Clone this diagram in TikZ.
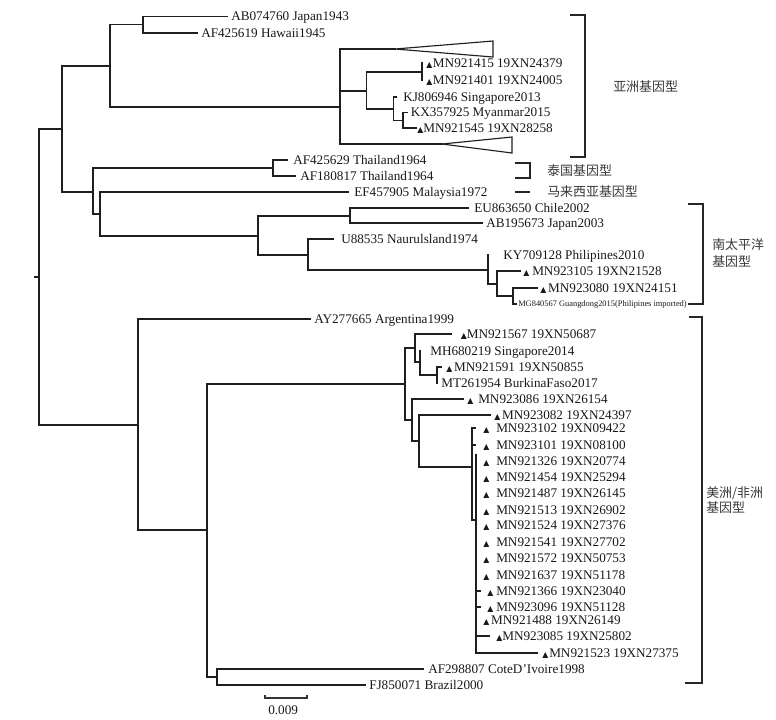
\documentclass[tikz,border=0pt]{standalone}
\usepackage{fontspec}
\setmainfont{Liberation Serif}
\newfontfamily\cjkf{Noto Sans CJK SC}
\newfontfamily\symf{DejaVu Sans}
\newcommand\mytri{{\symf\fontsize{5.9}{6}\selectfont ▲}}
\newcommand\tg[1]{\mytri\hspace{#1pt}}
\begin{document}
\begin{tikzpicture}[x=0.75pt,y=-0.75pt,
  br/.style={line width=0.85pt,draw=black!88,line cap=rect},
  lf/.style={anchor=base west,inner sep=0pt,font=\fontsize{9.9}{11}\selectfont,text=black!90},
  sm/.style={anchor=base west,inner sep=0pt,font=\fontsize{6.3}{7}\selectfont,text=black!90},
  cj/.style={anchor=west,inner sep=0pt,font=\cjkf\fontsize{9.7}{11}\selectfont,text=black!78},
  bk/.style={line width=0.9pt,draw=black!85}]
\newcommand\leaf[4]{\node[lf] (#1) at (#2,{#3+4.4}) {#4};}
\newcommand\edgebr[2]{\draw[br] (#1 |- #2) -- (#2);}
\newcommand\vbr[3]{\draw[br] (#1 |- #2) -- (#1 |- #3);}
\useasboundingbox[fill=white] (0,0) rectangle (776,719);

% ---------- internal nodes ----------
\coordinate (root) at (39,277);
\coordinate (n1) at (62,129);
\coordinate (nA) at (110,66);
\coordinate (nJH) at (143,24.7);
\coordinate (nAs) at (340,107);
\coordinate (nAs2) at (366.5,91);
\coordinate (nAs3) at (422,72);
\coordinate (nAs4) at (393.5,109);
\coordinate (nAs5) at (403,120.5);
\coordinate (nB) at (93,192);
\coordinate (nTh) at (273,168);
\coordinate (nC) at (100,214);
\coordinate (nD) at (258,236);
\coordinate (nE) at (350,216);
\coordinate (nF) at (308,255);
\coordinate (nG) at (488,270);
\coordinate (nH) at (497,284);
\coordinate (nI) at (513,296);
\coordinate (nJ) at (138,425);
\coordinate (nK) at (207,530);
\coordinate (nL) at (405,384);
\coordinate (nM) at (415,348);
\coordinate (nN) at (420,362);
\coordinate (nO) at (437,375);
\coordinate (nP) at (412,420);
\coordinate (nQ) at (419,441);
\coordinate (nR) at (472,467);
\coordinate (nS) at (476,520);
\coordinate (sTop) at (476,455);
\coordinate (nT) at (217,677);

% ---------- leaf ends ----------
\coordinate (eJap) at (227,16.5);
\coordinate (eHaw) at (197,33);
\coordinate (eT1) at (395,49);
\coordinate (eT2) at (442,144);
\coordinate (e415) at (422,63);
\coordinate (e401) at (422,80);
\coordinate (eKJ) at (396,97);
\coordinate (eKX) at (407,112.5);
\coordinate (e545) at (416,128);
\coordinate (eTh1) at (287,160);
\coordinate (eTh2) at (295,176);
\coordinate (eMal) at (348,192);
\coordinate (eChi) at (468,208);
\coordinate (eJp3) at (482,223);
\coordinate (eNau) at (333,239);
\coordinate (eKY) at (488,255);
\coordinate (e105) at (520,271);
\coordinate (e080) at (537,288);
\coordinate (eMG) at (516,304);
\coordinate (eArg) at (310,319);
\coordinate (e567) at (451,334);
\coordinate (eMH) at (420,351);
\coordinate (e591) at (441,367);
\coordinate (eMT) at (437,383);
\coordinate (e086) at (463,399);
\coordinate (e082) at (490,415);
\coordinate (e102) at (475.5,428);
\coordinate (e101) at (475.5,445);
\coordinate (e523) at (537,653);
\coordinate (e366) at (480,591);
\coordinate (e096) at (480,607);
\coordinate (e085) at (489,636);
\coordinate (eCote) at (423,669);
\coordinate (eBra) at (365,685);

% ---------- branches ----------
\draw[br] (35,277) -- (root);
\vbr{root}{n1}{nJ}
\edgebr{root}{n1} \edgebr{root}{nJ}
\vbr{n1}{nA}{nB}
\edgebr{n1}{nA} \edgebr{n1}{nB}
\vbr{nA}{nJH}{nAs}
\edgebr{nA}{nJH} \edgebr{nA}{nAs}
\vbr{nJH}{eJap}{eHaw}
\edgebr{nJH}{eJap} \edgebr{nJH}{eHaw}
\vbr{nAs}{eT1}{eT2}
\edgebr{nAs}{eT1} \edgebr{nAs}{nAs2} \edgebr{nAs}{eT2}
\draw[br,line cap=butt,line join=miter] (eT1) -- (493,41) -- (493,57) -- cycle;
\draw[br,line cap=butt,line join=miter] (eT2) -- (512,137) -- (512,153) -- cycle;
\vbr{nAs2}{nAs3}{nAs4}
\edgebr{nAs2}{nAs3} \edgebr{nAs2}{nAs4}
\vbr{nAs3}{e415}{e401}
\vbr{nAs4}{eKJ}{nAs5}
\edgebr{nAs4}{eKJ} \edgebr{nAs4}{nAs5}
\vbr{nAs5}{eKX}{e545}
\edgebr{nAs5}{eKX} \edgebr{nAs5}{e545}
\vbr{nB}{nTh}{nC}
\edgebr{nB}{nTh} \edgebr{nB}{nC}
\vbr{nTh}{eTh1}{eTh2}
\edgebr{nTh}{eTh1} \edgebr{nTh}{eTh2}
\vbr{nC}{eMal}{nD}
\edgebr{nC}{eMal} \edgebr{nC}{nD}
\vbr{nD}{nE}{nF}
\edgebr{nD}{nE} \edgebr{nD}{nF}
\vbr{nE}{eChi}{eJp3}
\edgebr{nE}{eChi} \edgebr{nE}{eJp3}
\vbr{nF}{eNau}{nG}
\edgebr{nF}{eNau} \edgebr{nF}{nG}
\vbr{nG}{eKY}{nH}
\edgebr{nG}{nH}
\vbr{nH}{e105}{nI}
\edgebr{nH}{e105} \edgebr{nH}{nI}
\vbr{nI}{e080}{eMG}
\edgebr{nI}{e080} \edgebr{nI}{eMG}
\vbr{nJ}{eArg}{nK}
\edgebr{nJ}{eArg} \edgebr{nJ}{nK}
\vbr{nK}{nL}{nT}
\edgebr{nK}{nL} \edgebr{nK}{nT}
\vbr{nL}{nM}{nP}
\edgebr{nL}{nM} \edgebr{nL}{nP}
\vbr{nM}{e567}{nN}
\edgebr{nM}{e567} \edgebr{nM}{nN}
\vbr{nN}{eMH}{nO}
\edgebr{nN}{nO}
\vbr{nO}{e591}{eMT}
\edgebr{nO}{e591}
\vbr{nP}{e086}{nQ}
\edgebr{nP}{e086} \edgebr{nP}{nQ}
\vbr{nQ}{e082}{nR}
\edgebr{nQ}{e082} \edgebr{nQ}{nR}
\vbr{nR}{e102}{nS}
\edgebr{nR}{e102} \edgebr{nR}{e101} \edgebr{nR}{nS}
\vbr{nS}{sTop}{e523}
\edgebr{nS}{e366} \edgebr{nS}{e096} \edgebr{nS}{e085} \edgebr{nS}{e523}
\vbr{nT}{eCote}{eBra}
\edgebr{nT}{eCote} \edgebr{nT}{eBra}

% ---------- leaf labels ----------
\leaf{lJap}{231}{16.5}{AB074760 Japan1943}
\leaf{lHaw}{201}{33}{AF425619 Hawaii1945}
\leaf{l415}{426}{63}{\tg{0.5}MN921415 19XN24379}
\leaf{l401}{426}{80}{\tg{0.5}MN921401 19XN24005}
\leaf{lKJ}{403}{97}{KJ806946 Singapore2013}
\leaf{lKX}{410.5}{112.5}{KX357925 Myanmar2015}
\leaf{l545}{417}{128}{\tg{0}MN921545 19XN28258}
\leaf{lTh1}{293}{160}{AF425629 Thailand1964}
\leaf{lTh2}{300}{176}{AF180817 Thailand1964}
\leaf{lMal}{354}{192}{EF457905 Malaysia1972}
\leaf{lChi}{474}{208}{EU863650 Chile2002}
\leaf{lJp3}{486}{223}{AB195673 Japan2003}
\leaf{lNau}{341}{239}{U88535 Naurulsland1974}
\leaf{lKY}{503}{255}{KY709128 Philipines2010}
\leaf{l105}{523}{271}{\tg{2.2}MN923105 19XN21528}
\leaf{l080}{540}{288}{\tg{1.4}MN923080 19XN24151}
\node[sm] (lMG) at (518,306.5) {MG840567 Guangdong2015(Philipines imported)};
\leaf{lArg}{314}{319}{AY277665 Argentina1999}
\leaf{l567}{460.5}{334}{\tg{0}MN921567 19XN50687}
\leaf{lMH}{430}{351}{MH680219 Singapore2014}
\leaf{l591}{446}{367}{\tg{1.4}MN921591 19XN50855}
\leaf{lMT}{441}{383}{MT261954 BurkinaFaso2017}
\leaf{l086}{467}{399}{\tg{3.7}MN923086 19XN26154}
\leaf{l082}{494}{415}{\tg{1.4}MN923082 19XN24397}
\leaf{l102}{483}{428}{\tg{5.2}MN923102 19XN09422}
\leaf{l101}{483}{445}{\tg{5.2}MN923101 19XN08100}
\leaf{l326}{483}{461}{\tg{5.2}MN921326 19XN20774}
\leaf{l454}{483}{477}{\tg{5.2}MN921454 19XN25294}
\leaf{l487}{483}{493.5}{\tg{5.2}MN921487 19XN26145}
\leaf{l513}{483}{510}{\tg{5.2}MN921513 19XN26902}
\leaf{l524}{483}{525.5}{\tg{5.2}MN921524 19XN27376}
\leaf{l541}{483}{542}{\tg{5.2}MN921541 19XN27702}
\leaf{l572}{483}{558}{\tg{5.2}MN921572 19XN50753}
\leaf{l637}{483}{575}{\tg{5.2}MN921637 19XN51178}
\leaf{l366}{487}{591}{\tg{2.2}MN921366 19XN23040}
\leaf{l096}{487}{607}{\tg{2.2}MN923096 19XN51128}
\leaf{l488}{483}{620}{\tg{1.4}MN921488 19XN26149}
\leaf{l085}{496}{636}{\tg{0}MN923085 19XN25802}
\leaf{l523}{542}{653}{\tg{0.7}MN921523 19XN27375}
\leaf{lCote}{428}{669}{AF298807 CoteD’Ivoire1998}
\leaf{lBra}{369}{685}{FJ850071 Brazil2000}

% ---------- group brackets and names ----------
\draw[bk] (570,15) -- (585,15) -- (585,157) -- (570,157);
\node[cj] (gAs) at (613,87) {亚洲基因型};
\draw[bk] (515,163) -- (530,163) -- (530,178) -- (515,178);
\node[cj] (gTh) at (547,171) {泰国基因型};
\draw[bk] (515,192) -- (530,192);
\node[cj] (gMa) at (547,191.5) {马来西亚基因型};
\draw[bk] (688,204) -- (703,204) -- (703,304) -- (688,304);
\node[cj] (gSP1) at (712,245) {南太平洋};
\node[cj] (gSP2) at (712,262) {基因型};
\draw[bk] (689,317) -- (702,317) -- (702,683) -- (685,683);
\node[cj] (gAm1) at (706,493) {美洲/非洲};
\node[cj] (gAm2) at (706,508) {基因型};

% ---------- scale bar ----------
\coordinate (sb1) at (265,698);
\coordinate (sb2) at (307,698);
\draw[line width=0.8pt,draw=black!80] ([yshift=2.2pt]sb1) -- (sb1) -- (sb2) -- ([yshift=2.2pt]sb2);
\node[lf] (sbl) at (268,714) {0.009};
\end{tikzpicture}
\end{document}
